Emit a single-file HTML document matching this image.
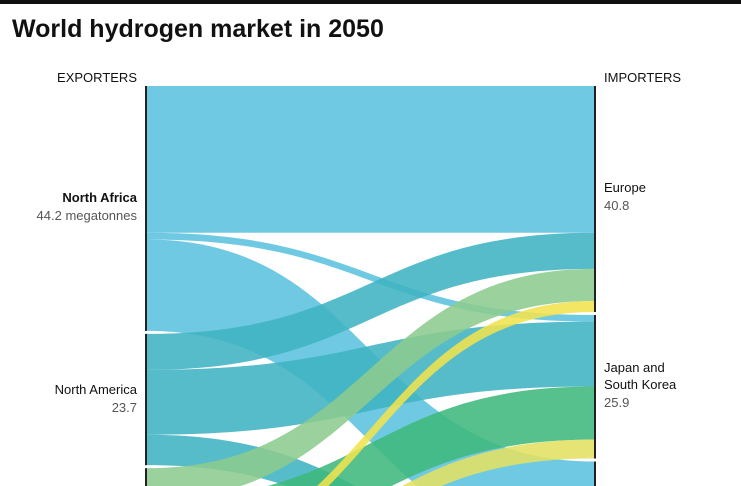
<!DOCTYPE html>
<html><head><meta charset="utf-8"><style>
html,body{margin:0;width:741px;height:486px;overflow:hidden;background:#fff;font-family:"Liberation Sans",sans-serif;}
svg{display:block;overflow:hidden;}
</style></head><body>
<svg width="741" height="486" id="chart">
<defs><clipPath id="clip"><rect x="0" y="0" width="741" height="486"/></clipPath></defs>
<rect x="0" y="0" width="741" height="4" fill="#111"/>
<text x="12" y="37" font-size="25" font-weight="bold" fill="#111">World hydrogen market in 2050</text>
<text x="137" y="82" font-size="13" text-anchor="end" fill="#111">EXPORTERS</text>
<text x="604" y="82" font-size="13" fill="#111">IMPORTERS</text>
<g clip-path="url(#clip)"><g id="links"></g><g id="nodes"></g></g><g id="labels"></g>
</svg>
<script>
const sources = ["North Africa","North America","Australia","Middle East"];
const sourceValues = [44.2, 23.7, 15.4, 5.4];
const targets = ["Europe","Japan and South Korea","Other"];
const targetValues = [40.8, 25.9, 22.0];
const flowSource = [0,0,0,1,1,1,2,2,3,3];
const flowTarget = [0,1,2,0,1,2,0,1,0,1];
const flowValue = [26.5,1.2,16.5,6.5,11.7,5.5,5.8,9.6,2.0,3.4];
const flowColors = ["#5cc1df","#5cc1df","#5cc1df","#3fb3c2","#3fb3c2","#3fb3c2","#8ccb8e","#3fb87c","#f0e24f","#e2e062"];

const scale = v => v * 5.54;
const gap = 3, top0 = 86, xL = 147, xR = 594;
const svgNS = "http://www.w3.org/2000/svg";
function nodeStarts(vals){const s=[];let y=top0;vals.forEach(v=>{s.push(y);y+=scale(v)+gap;});return s;}
const sStart = nodeStarts(sourceValues), tStart = nodeStarts(targetValues);
const sOff = sStart.slice(), tOff = tStart.slice();
const linksG = document.getElementById('links');
const ys = flowValue.map((v,i)=>{const h=scale(v);const y0=sOff[flowSource[i]];sOff[flowSource[i]]+=h;return {y0,h};});
flowValue.forEach((v,i)=>{const h=ys[i].h;const y1=tOff[flowTarget[i]];tOff[flowTarget[i]]+=h;ys[i].y1=y1;});
flowValue.forEach((v,i)=>{
  const {y0,y1,h}=ys[i];const mx=(xL+xR)/2;
  const p=document.createElementNS(svgNS,'path');
  p.setAttribute('d',`M${xL},${y0} C${mx},${y0} ${mx},${y1} ${xR},${y1} L${xR},${y1+h} C${mx},${y1+h} ${mx},${y0+h} ${xL},${y0+h} Z`);
  p.setAttribute('fill',flowColors[i]);p.setAttribute('fill-opacity','0.88');
  
  
  linksG.appendChild(p);
});
const nodesG=document.getElementById('nodes');
sourceValues.forEach((v,i)=>{const r=document.createElementNS(svgNS,'rect');
  r.setAttribute('x',xL-2);r.setAttribute('y',sStart[i]);r.setAttribute('width',2);r.setAttribute('height',scale(v));r.setAttribute('fill','#222');
  
  
  nodesG.appendChild(r);});
targetValues.forEach((v,i)=>{const r=document.createElementNS(svgNS,'rect');
  r.setAttribute('x',xR);r.setAttribute('y',tStart[i]);r.setAttribute('width',2);r.setAttribute('height',scale(v));r.setAttribute('fill','#222');
  
  
  nodesG.appendChild(r);});
const lab=document.getElementById('labels');
function txt(x,y,s,anchor,bold,col,name){const t=document.createElementNS(svgNS,'text');t.setAttribute('x',x);t.setAttribute('y',y);t.setAttribute('font-size','13');t.setAttribute('text-anchor',anchor);if(bold)t.setAttribute('font-weight','bold');t.setAttribute('fill',col);t.textContent=s;
  
  
  lab.appendChild(t);}
txt(137,202,"North Africa","end",true,"#111","exporter-label");
txt(137,220,sourceValues[0]+" megatonnes","end",false,"#555","exporter-value");
txt(137,394,"North America","end",false,"#111","exporter-label");
txt(137,412,sourceValues[1].toString(),"end",false,"#555","exporter-value");
txt(604,192,"Europe","start",false,"#111","importer-label");
txt(604,210,targetValues[0].toString(),"start",false,"#555","importer-value");
txt(604,372,"Japan and","start",false,"#111","importer-label");
txt(604,389,"South Korea","start",false,"#111","importer-label");
txt(604,407,targetValues[1].toString(),"start",false,"#555","importer-value");
</script>
</body></html>
